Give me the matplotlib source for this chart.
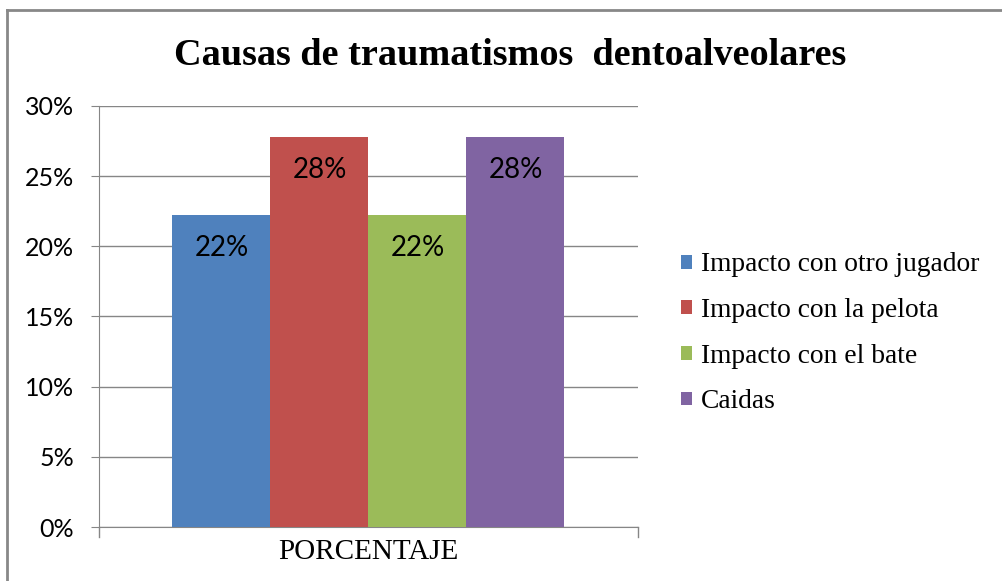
import numpy as np
import matplotlib.pyplot as plt
from matplotlib.lines import Line2D

# datos
categorias = ['Impacto con otro jugador', 'Impacto con la pelota',
              'Impacto con el bate', 'Caidas']
valores = [22.2, 27.8, 22.2, 27.8]
etiquetas = ['22%', '28%', '22%', '28%']
colores = ['#4f81bd', '#c0504d', '#9bbb59', '#8064a2']
yticks = [0, 5, 10, 15, 20, 25, 30]
ytick_labels = ['0%', '5%', '10%', '15%', '20%', '25%', '30%']

fig = plt.figure(figsize=(10.02, 5.81), dpi=100)
ax = fig.add_axes([0.0988, 0.0929, 0.5379, 0.7247])

ancho = 1 / 5.5
x = (np.arange(len(valores)) - 1.5) * ancho
barras = ax.bar(x, valores, width=ancho, color=colores, label=categorias, zorder=3)

for xi, v, t in zip(x, valores, etiquetas):
    ax.text(xi, v - 2.35, t, ha='center', va='center', fontsize=20, family='Lato', zorder=4)

ax.set_xlim(-0.5, 0.5)
ax.set_ylim(0, 30)
ax.set_yticks(yticks)
ax.set_yticklabels(ytick_labels, fontsize=18, family='Lato')
ax.set_xticks([])
ax.yaxis.grid(True, color='#868686', lw=1, zorder=0)
for s in ['top', 'right']:
    ax.spines[s].set_visible(False)
for s in ['left', 'bottom']:
    ax.spines[s].set_color('#868686')
ax.tick_params(axis='y', length=6, color='#868686', pad=12)

# marcas en los extremos del eje x
for xe in [-0.5, 0.5]:
    ax.add_line(Line2D([xe, xe], [0, -0.7], color='#868686', lw=1, clip_on=False))

ax.text(0, -1.75, 'PORCENTAJE', ha='center', va='center', fontsize=21, family='Liberation Serif')

fig.text(0.509, 0.905, 'Causas de traumatismos  dentoalveolares', ha='center', va='center',
         fontsize=27.5, fontweight='bold', family='Liberation Serif')

leg = ax.legend(loc='center left', bbox_to_anchor=(1.033, 0.46), frameon=False,
                prop={'family': 'Liberation Serif', 'size': 19.8},
                handlelength=0.4, handleheight=0.4, handletextpad=0.33, labelspacing=0.75)

# marco del grafico
fig.add_artist(Line2D([0.0065, 1.0], [0.9835, 0.9835], color='#888888', lw=2))
fig.add_artist(Line2D([0.0065, 0.0065], [0.0, 0.9835], color='#888888', lw=2))

plt.savefig('out.png', dpi=100)
